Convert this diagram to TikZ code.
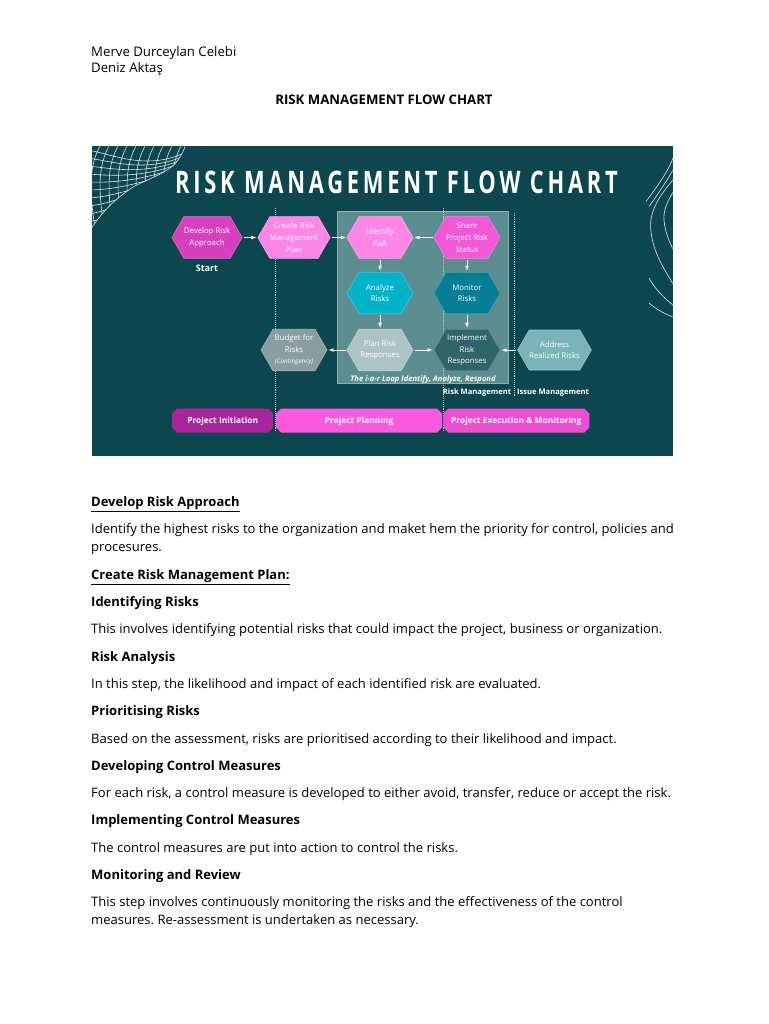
\documentclass[tikz,border=0pt]{standalone}
\usepackage{fontspec}
\setmainfont{Open Sans}
\frenchspacing
\usetikzlibrary{arrows}
\usetikzlibrary{shapes}
\usetikzlibrary{shapes.symbols}
\usetikzlibrary{shapes.misc}
\definecolor{chartbg}{HTML}{0C464F}
\definecolor{loopbg}{HTML}{5C8D91}
\definecolor{deep}{HTML}{D63FBE}
\definecolor{pale}{HTML}{FF85E6}
\definecolor{share}{HTML}{F257D8}
\definecolor{cyan1}{HTML}{00B3C8}
\definecolor{cyan2}{HTML}{067F96}
\definecolor{grey1}{HTML}{8A9E9F}
\definecolor{grey2}{HTML}{AEC4C4}
\definecolor{teal1}{HTML}{2F6468}
\definecolor{teal2}{HTML}{7AB4B8}
\definecolor{barone}{HTML}{A8259C}
\definecolor{bartwo}{HTML}{FB59DE}
\definecolor{barthree}{HTML}{EE4FD2}
\tikzset{
  hex/.style={signal, signal to=east and west, signal pointer angle=120, draw=#1!75!white, fill=#1,
    line width=.6pt, minimum width=66pt, minimum height=41.5pt, inner sep=0pt, outer sep=0pt, text=white,
    align=center, font=\fontsize{7.8}{11.6}\selectfont},
  bar/.style={chamfered rectangle, chamfered rectangle xsep=2.5pt, chamfered rectangle ysep=2.5pt, fill=#1,
    minimum height=24pt, inner sep=0pt, text=white, text depth=0pt, font=\fontsize{8.4}{10}\selectfont\bfseries},
  bodytext/.style={anchor=base west, inner sep=0pt, yshift=-.8pt, font=\fontsize{13.04}{16}\selectfont},
  headtext/.style={bodytext, font=\fontsize{13}{16}\selectfont\bfseries},
  sublabel/.style={inner sep=0pt, text=white, font=\fontsize{9}{10}\selectfont\bfseries},
  link/.style={white, line width=.7pt, -latex, shorten >=1.5pt, shorten <=1.5pt},
  phaseline/.style={white!70!chartbg, line width=.9pt, densely dotted},
  meshline/.style={white!88!chartbg, line width=.6pt},
}
\begin{document}
\begin{tikzpicture}[x=1pt,y=-1pt]
 \useasboundingbox (0,0) rectangle (768,1024);
 % heading
 \node[bodytext, font=\fontsize{13.2}{16}\selectfont] (author1) at (91,55.5) {Merve Durceylan Celebi};
 \node[bodytext, font=\fontsize{13.2}{16}\selectfont] (author2) at (91,71.5) {Deniz Aktaş};
 \node[headtext, anchor=base] (title) at (384,103.5) {\fontsize{13.2}{16}\selectfont RISK MANAGEMENT FLOW CHART};
 % chart background
 \fill[chartbg] (91.5,146.5) rectangle (673.3,455.5);
 % mesh top left
 \begin{scope}
  \clip (91.5,228) .. controls (105,208) and (117,198) .. (133,187)
    .. controls (150,178) and (170,172) .. (178,160) .. controls (182,154) and (184,150) .. (185,146.5)
    -- (91.5,146.5) -- cycle;
  \foreach \d in {0,...,10}
   \draw[meshline] (100+\d*9,146) .. controls (90+\d*9,165) and (88+\d*9,185) .. (96+\d*9,235);
  \foreach \d in {0,...,9}
   \draw[meshline] (88,150+\d*8) .. controls (115,155+\d*7) and (150,172+\d*2) .. (190,150+\d*3);
 \end{scope}
 \draw[meshline] (91.5,228) .. controls (105,208) and (117,198) .. (133,187)
    .. controls (150,178) and (170,172) .. (178,160) .. controls (182,154) and (184,150) .. (185,146.5);
 % lines right
 \draw[meshline] (646,201.5) .. controls (656,188) and (668,172) .. (673,158);
 \draw[meshline] (649,206.5) .. controls (658,194) and (666,182) .. (673,170);
 \draw[meshline] (673,180) .. controls (660,195) and (648,212) .. (651,232) .. controls (654,255) and (665,270) .. (673,284);
 \draw[meshline] (673,192) .. controls (668,201) and (663,210) .. (664,220) .. controls (665,232) and (669,241) .. (673,249);
 \draw[meshline] (649,278) .. controls (655,289) and (664,298) .. (673,305);
 \draw[meshline] (649,303) .. controls (657,310) and (665,314) .. (673,317);
 % chart title
 \node[inner sep=0pt, text=white, xscale=.707] (charttitle) at (396.5,182)
  {\fontsize{31}{34}\selectfont\bfseries\addfontfeature{LetterSpace=17}RISK MANAGEMENT FLOW CHART};
 % loop panel
 \draw[fill=loopbg, draw=white!30!loopbg, line width=.6pt] (337.3,211) rectangle (508.3,383.3);
 % phase lines
 \coordinate (p1a) at (275,208);
 \coordinate (p1b) at (275,432);
 \coordinate (p2a) at (443,208);
 \coordinate (p2b) at (443,432);
 \coordinate (p3a) at (514,213);
 \coordinate (p3b) at (514,397);
 \draw[phaseline] (p1a) -- (p1b);
 \draw[phaseline] (p2a) -- (p2b);
 \draw[phaseline] (p3a) -- (p3b);
 % steps
 \node[hex=deep] (develop) at (207,237.5) {Develop Risk\\Approach};
 \node[hex=pale] (create) at (294,237.5) {Create Risk\\Management\\Plan};
 \node[hex=pale] (identify) at (380,237.5) {Identify\\Risk};
 \node[hex=share] (sharerisk) at (467,237.5) {Share\\Project Risk\\Status};
 \node[hex=cyan1] (analyze) at (380,293) {Analyze\\Risks};
 \node[hex=cyan2] (monitor) at (467,293) {Monitor\\Risks};
 \node[hex=grey1] (budget) at (294,350) {Budget for\\Risks\\{\fontsize{6.4}{9}\selectfont\itshape (Contingency)}};
 \node[hex=grey2] (planresp) at (380,350) {Plan Risk\\Responses};
 \node[hex=teal1] (implement) at (467,350) {Implement\\Risk\\Responses};
 \node[hex=teal2, minimum width=63pt, minimum height=40pt] (address) at (554.5,350) {Address\\Realized Risks};
 % connectors
 \draw[link] (develop.east) -- (create.west);
 \draw[link] (create.east) -- (identify.west);
 \draw[link] (sharerisk.west) -- (identify.east);
 \draw[link] (identify.south) -- (analyze.north);
 \draw[link] (analyze.south) -- (planresp.north);
 \draw[link] (sharerisk.south) -- (monitor.north);
 \draw[link] (monitor.south) -- (implement.north);
 \draw[link] (planresp.west) -- (budget.east);
 \draw[link] (planresp.east) -- (implement.west);
 \draw[link] (address.west) -- (implement.east);
 % labels
 \node[sublabel] (startlabel) at (207,268) {Start};
 \node[sublabel, font=\fontsize{7.6}{10}\selectfont\itshape\bfseries] (looplabel) at (423,379.5) {The i-a-r Loop Identify, Analyze, Respond};
 \node[sublabel, font=\fontsize{7.6}{10}\selectfont\bfseries] (risklabel) at (477,392.5) {Risk Management};
 \node[sublabel, font=\fontsize{7.6}{10}\selectfont\bfseries] (issuelabel) at (553,392.5) {Issue Management};
 % phases
 \node[bar=barone, minimum width=101pt] (initiation) at (222.7,420.5) {Project Initiation};
 \node[bar=bartwo, minimum width=166pt] (planning) at (359,420.5) {Project Planning};
 \node[bar=barthree, minimum width=146pt] (execution) at (516.3,420.5) {Project Execution \& Monitoring};
 % text
 \node[headtext] (h1) at (91,505.5) {\underline{Develop Risk Approach}};
 \node[bodytext] (t1a) at (91,532.5) {Identify the highest risks to the organization and maket hem the priority for control, policies and};
 \node[bodytext] (t1b) at (91,550.5) {procesures.};
 \node[headtext] (h2) at (91,578.5) {\underline{Create Risk Management Plan:}};
 \node[headtext] (h3) at (91,605.5) {Identifying Risks};
 \node[bodytext] (t3) at (91,633) {This involves identifying potential risks that could impact the project, business or organization.};
 \node[headtext] (h4) at (91,660.5) {Risk Analysis};
 \node[bodytext] (t4) at (91,688) {In this step, the likelihood and impact of each identified risk are evaluated.};
 \node[headtext] (h5) at (91,714.5) {Prioritising Risks};
 \node[bodytext] (t5) at (91,742.5) {Based on the assessment, risks are prioritised according to their likelihood and impact.};
 \node[headtext] (h6) at (91,769.5) {Developing Control Measures};
 \node[bodytext] (t6) at (91,797) {For each risk, a control measure is developed to either avoid, transfer, reduce or accept the risk.};
 \node[headtext] (h7) at (91,824) {Implementing Control Measures};
 \node[bodytext] (t7) at (91,851.5) {The control measures are put into action to control the risks.};
 \node[headtext] (h8) at (91,879) {Monitoring and Review};
 \node[bodytext] (t8a) at (91,906) {This step involves continuously monitoring the risks and the effectiveness of the control};
 \node[bodytext] (t8b) at (91,924) {measures. Re-assessment is undertaken as necessary.};
\end{tikzpicture}
\end{document}
